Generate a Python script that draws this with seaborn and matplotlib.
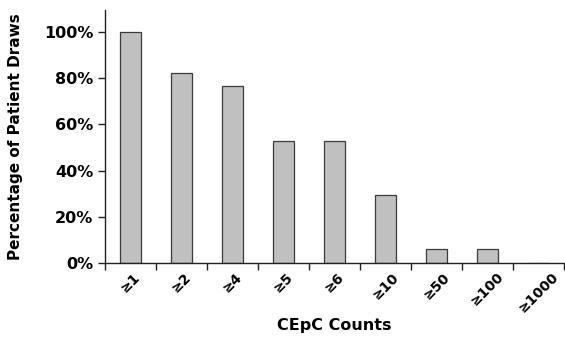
import numpy as np
import pandas as pd
import seaborn as sns
from matplotlib import pyplot as plt
from matplotlib.ticker import PercentFormatter, FixedLocator

# data
categories = ['≥1', '≥2', '≥4', '≥5', '≥6', '≥10', '≥50', '≥100', '≥1000']
percentages = [100.0, 82.4, 76.5, 52.9, 52.9, 29.4, 5.9, 5.9, 0.0]

sns.set_style('white')
plt.rcParams['font.family'] = ['DejaVu Sans']
plt.rcParams['text.color'] = 'black'
plt.rcParams['axes.labelcolor'] = 'black'
plt.rcParams['xtick.color'] = 'black'
plt.rcParams['ytick.color'] = 'black'

df = pd.DataFrame({'count': categories, 'pct': percentages})

fig, ax = plt.subplots(figsize=(5.65, 3.37), dpi=100)
fig.subplots_adjust(left=0.186, right=0.998, top=0.97, bottom=0.22)

sns.barplot(data=df, x='count', y='pct', color='#c0c0c0', edgecolor='#3a3a3a',
            linewidth=0.9, width=0.4, saturation=1, ax=ax)

ax.set_ylim(0, 109.5)
ax.set_xlim(-0.5, len(categories) - 0.5)
ax.set_yticks([0, 20, 40, 60, 80, 100])
ax.yaxis.set_major_formatter(PercentFormatter(decimals=0))

# tick marks sit between categories, labels at the bar centres
ax.xaxis.set_minor_locator(FixedLocator(np.arange(-0.5, len(categories), 1.0)))
ax.tick_params(axis='x', which='major', length=0, pad=5)
ax.tick_params(axis='x', which='minor', length=5, width=1, color='#222222', direction='out', bottom=True)
ax.tick_params(axis='y', length=5, width=1, color='#222222', direction='out', left=True)

for lbl in ax.get_xticklabels():
    lbl.set_rotation(45)
    lbl.set_ha('center')
    lbl.set_va('top')
    lbl.set_fontsize(10)
    lbl.set_fontweight('bold')
for lbl in ax.get_yticklabels():
    lbl.set_fontsize(11.5)
    lbl.set_fontweight('bold')

sns.despine(ax=ax)
for side in ['left', 'bottom']:
    ax.spines[side].set_color('#222222')
    ax.spines[side].set_linewidth(1)

ax.set_xlabel('CEpC Counts', fontsize=11.5, fontweight='bold', labelpad=2)
ax.set_ylabel('Percentage of Patient Draws', fontsize=11, fontweight='bold', labelpad=15)

fig.savefig('out.png', dpi=100)
